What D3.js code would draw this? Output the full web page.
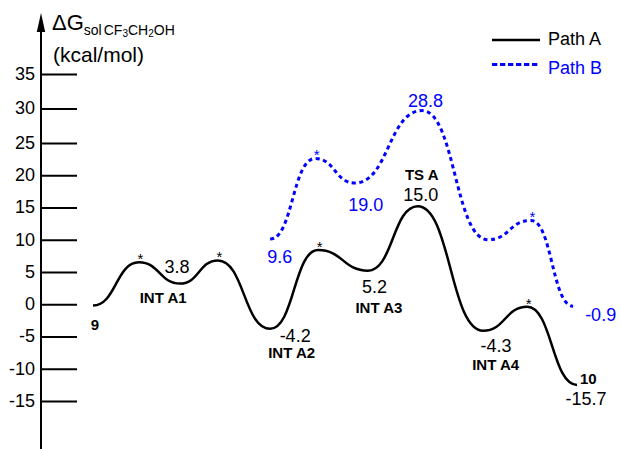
<!DOCTYPE html>
<html>
<head>
<meta charset="utf-8">
<script src="https://cdn.jsdelivr.net/npm/d3@7"></script>
<style>
  html, body { margin: 0; padding: 0; background: #fff; }
  svg { display: block; font-family: "Liberation Sans", Arial, sans-serif; }
</style>
</head>
<body>
<svg id="chart" width="620" height="449"></svg>
<script>
// ---------------- data ----------------
// reaction coordinate (arbitrary units) and ΔG (kcal/mol) of the drawn stationary points
const pathAx = [0, 9.5, 18, 25.8, 36.6, 46.5, 56.8, 67.1, 80.6, 89.7, 100];
const pathAy = [-0.2, 6.5, 3.2, 6.8, -3.8, 8.4, 5.2, 15.2, -4.1, -0.4, -12.5];
const pathBx = [36.6, 45.9, 54.1, 68.0, 81.6, 90.5, 99.2];
const pathBy = [10.1, 22.6, 18.8, 29.7, 10.0, 13.0, -0.3];

const tickValues = [-15, -10, -5, 0, 5, 10, 15, 20, 25, 30, 35];
const tickLabels = ["-15", "-10", "-5", "0", "5", "10", "15", "20", "25", "30", "35"];

const seriesNames = ["Path A", "Path B"];

// value labels (index into the path's points)
const valueLabelsA = [
  { i: 2, text: "3.8" }, { i: 4, text: "-4.2" }, { i: 6, text: "5.2" },
  { i: 7, text: "15.0" }, { i: 8, text: "-4.3" }, { i: 10, text: "-15.7" }
];
const nameLabelsA = [
  { i: 0, text: "9" }, { i: 2, text: "INT A1" }, { i: 4, text: "INT A2" },
  { i: 6, text: "INT A3" }, { i: 7, text: "TS A" }, { i: 8, text: "INT A4" },
  { i: 10, text: "10" }
];
const valueLabelsB = [
  { i: 0, text: "9.6" }, { i: 2, text: "19.0" }, { i: 3, text: "28.8" }, { i: 6, text: "-0.9" }
];
const starsA = [1, 3, 5, 9];
const starsB = [1, 5];

// ---------------- layout ----------------
const svg = d3.select("#chart");
const axisX = 41;
const font = "'Liberation Sans', Arial, sans-serif";
const blue = "#0000ff";

const x = d3.scaleLinear().domain([0, 100]).range([93, 577]);
const y = d3.scaleLinear().domain([-15, 25, 35]).range([401, 143, 74]);

// label offsets (px) relative to their anchor points
const offA = {
  "3.8": [-3, -11, "middle"], "-4.2": [25, 13, "middle"], "5.2": [6.5, 22, "middle"],
  "15.0": [3, -5.5, "middle"], "-4.3": [13, 21, "middle"], "-15.7": [9, 20, "middle"],
  "9": [2, 24.5, "middle"], "INT A1": [-17, 19, "middle"], "INT A2": [21.5, 29.6, "middle"],
  "INT A3": [11, 42, "middle"], "TS A": [4, -26, "middle"], "INT A4": [12.5, 39.4, "middle"],
  "10": [3, -1, "start"]
};
const offB = {
  "9.6": [9.5, 24, "middle"], "19.0": [11, 28, "middle"], "28.8": [3.5, -4, "middle"],
  "-0.9": [12, 14.7, "start"]
};

// ---------------- y axis ----------------
const yAxis = d3.axisLeft(y)
  .tickValues(tickValues)
  .tickFormat((d, i) => tickLabels[i])
  .tickSize(-36)
  .tickSizeOuter(0)
  .tickPadding(6);

const gAxis = svg.append("g").attr("transform", `translate(${axisX},0)`).call(yAxis);
gAxis.select(".domain").remove();
gAxis.selectAll(".tick line").attr("stroke", "#000").attr("stroke-width", 2);
gAxis.selectAll(".tick text")
  .attr("fill", "#000")
  .attr("font-size", 18)
  .attr("font-family", font)
  .attr("dy", "0.3em");

// axis line + arrow
svg.append("line")
  .attr("x1", axisX).attr("x2", axisX)
  .attr("y1", 28).attr("y2", 449)
  .attr("stroke", "#000").attr("stroke-width", 2);
svg.append("path")
  .attr("d", d3.line()([[axisX, 13], [axisX - 4.2, 32], [axisX + 4.2, 32]]) + "Z")
  .attr("fill", "#000");

// title
const title = svg.append("text")
  .attr("x", 52).attr("y", 30)
  .attr("font-family", font).attr("fill", "#000")
  .attr("font-size", 22);
title.append("tspan").text("ΔG");
title.append("tspan").attr("font-size", 14).attr("dy", 5).text("sol");
title.append("tspan").attr("font-size", 14).attr("dx", 2).text("CF");
title.append("tspan").attr("font-size", 10).attr("dy", 2).text("3");
title.append("tspan").attr("font-size", 14).attr("dy", -2).text("CH");
title.append("tspan").attr("font-size", 10).attr("dy", 2).text("2");
title.append("tspan").attr("font-size", 14).attr("dy", -2).text("OH");

svg.append("text")
  .attr("x", 53).attr("y", 62)
  .attr("font-family", font).attr("font-size", 21).attr("fill", "#000")
  .text("(kcal/mol)");

// ---------------- curves ----------------
const ptsA = pathAx.map((v, i) => [v, pathAy[i]]);
const ptsB = pathBx.map((v, i) => [v, pathBy[i]]);
const line = d3.line().x(d => x(d[0])).y(d => y(d[1])).curve(d3.curveBumpX);

svg.append("path")
  .attr("d", line(ptsB))
  .attr("fill", "none").attr("stroke", blue)
  .attr("stroke-width", 3).attr("stroke-dasharray", "4,3.5");

svg.append("path")
  .attr("d", line(ptsA))
  .attr("fill", "none").attr("stroke", "#000")
  .attr("stroke-width", 2.5);

// ---------------- labels ----------------
function addLabel(pts, lab, off, color, size, weight) {
  const p = pts[lab.i];
  const o = off[lab.text];
  svg.append("text")
    .attr("x", x(p[0]) + o[0])
    .attr("y", y(p[1]) + o[1])
    .attr("text-anchor", o[2])
    .attr("font-family", font)
    .attr("font-size", size)
    .attr("font-weight", weight)
    .attr("fill", color)
    .text(lab.text);
}
valueLabelsA.forEach(l => addLabel(ptsA, l, offA, "#000", 18, "normal"));
nameLabelsA.forEach(l => addLabel(ptsA, l, offA, "#000", 15, "bold"));
valueLabelsB.forEach(l => addLabel(ptsB, l, offB, blue, 18, "normal"));

function addStar(pts, i, color) {
  svg.append("text")
    .attr("x", x(pts[i][0]) + 1.5)
    .attr("y", y(pts[i][1]) + 2)
    .attr("text-anchor", "middle")
    .attr("font-family", font)
    .attr("font-size", 15)
    .attr("fill", color)
    .text("*");
}
starsA.forEach(i => addStar(ptsA, i, "#000"));
starsB.forEach(i => addStar(ptsB, i, blue));

// ---------------- legend ----------------
const legend = svg.append("g");
seriesNames.forEach((name, k) => {
  const ly = 40 + k * 24.5;
  legend.append("line")
    .attr("x1", 492).attr("x2", 540).attr("y1", ly).attr("y2", ly)
    .attr("stroke", k === 0 ? "#000" : blue)
    .attr("stroke-width", k === 0 ? 2.5 : 3)
    .attr("stroke-dasharray", k === 0 ? null : "5.3,2.7");
  legend.append("text")
    .attr("x", 548).attr("y", ly + 5 + k * 4)
    .attr("font-family", font).attr("font-size", 18)
    .attr("fill", k === 0 ? "#000" : blue)
    .text(name);
});
</script>
</body>
</html>
